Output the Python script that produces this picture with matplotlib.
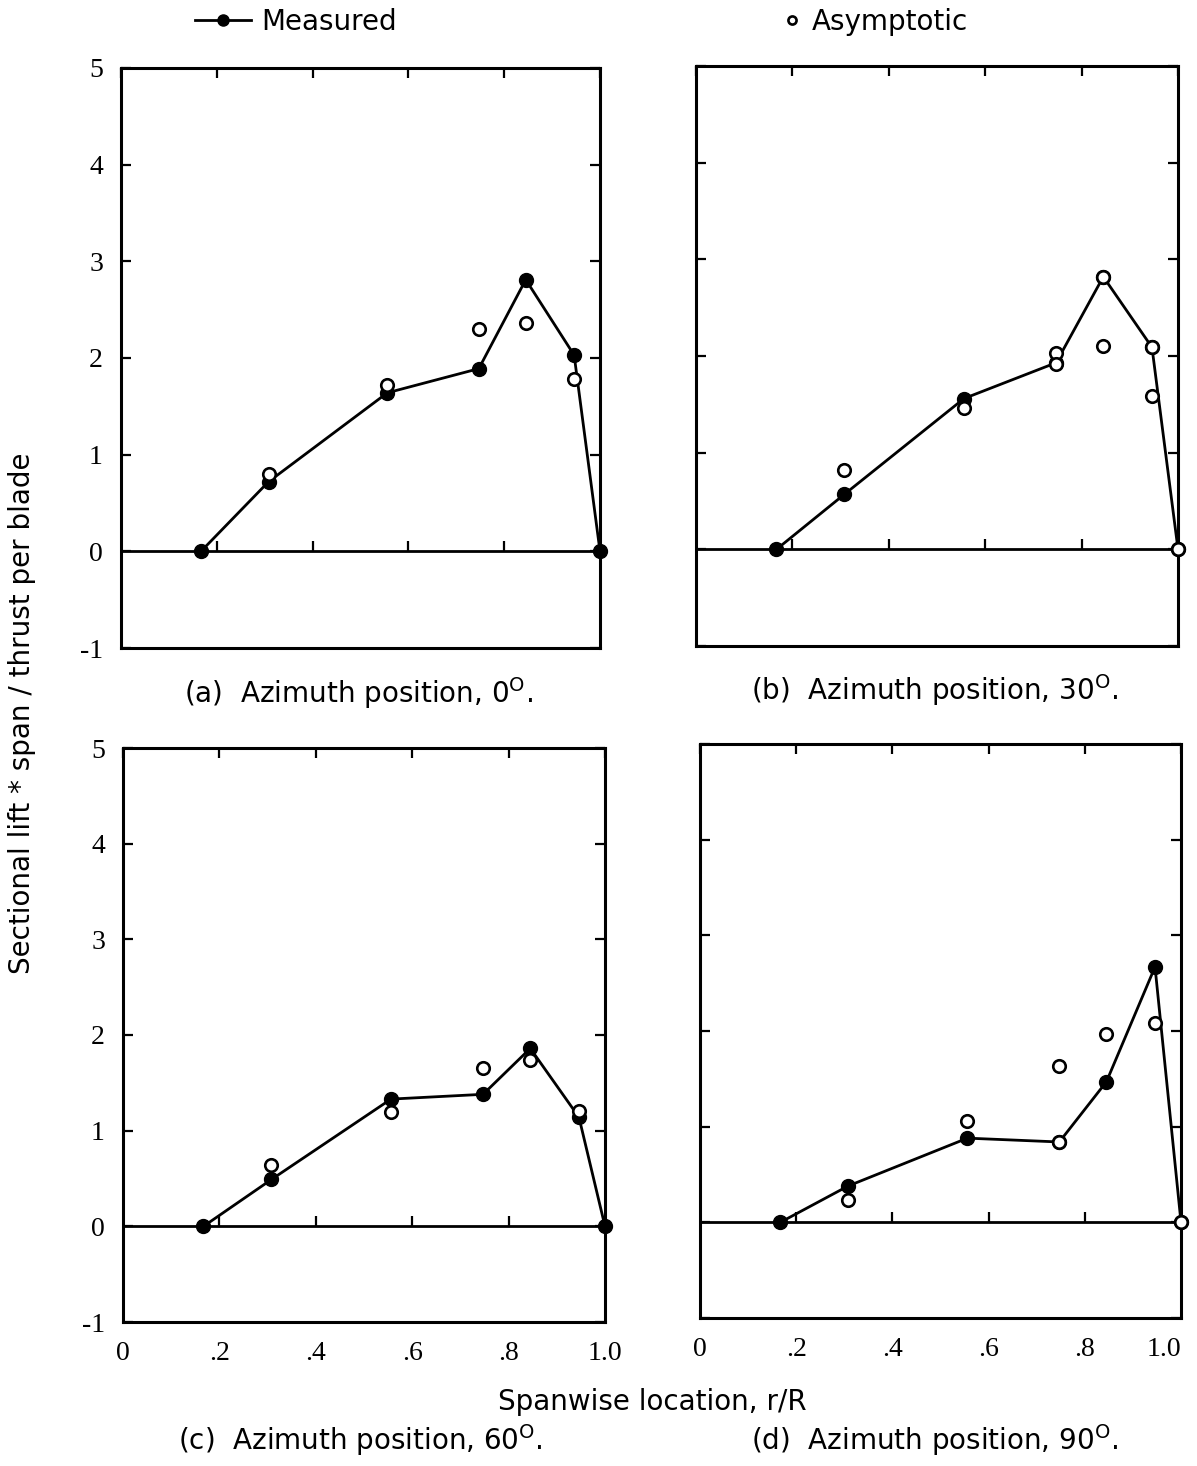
import matplotlib
matplotlib.use("Agg")
import matplotlib.pyplot as plt
from matplotlib.ticker import NullFormatter

# ---------------- data ----------------
r_meas = [0.167, 0.308, 0.556, 0.747, 0.845, 0.946, 1.0]

meas_a = [0.0, 0.72, 1.64, 1.89, 2.81, 2.03, 0.0]
meas_b = [0.0, 0.57, 1.56, 1.93, 2.82, 2.09, 0.0]
meas_c = [0.0, 0.49, 1.33, 1.38, 1.86, 1.14, 0.0]
meas_d = [0.0, 0.38, 0.88, 0.84, 1.47, 2.67, 0.0]

asym_a_x = [0.308, 0.556, 0.747, 0.845, 0.946]
asym_a_y = [0.80, 1.72, 2.30, 2.36, 1.78]
asym_b_x = [0.308, 0.556, 0.747, 0.747, 0.845, 0.845, 0.946, 0.946, 1.0]
asym_b_y = [0.82, 1.46, 2.03, 1.92, 2.10, 2.82, 1.59, 2.09, 0.0]
asym_c_x = [0.308, 0.556, 0.747, 0.845, 0.946]
asym_c_y = [0.64, 1.20, 1.65, 1.74, 1.21]
asym_d_x = [0.308, 0.556, 0.747, 0.747, 0.845, 0.946, 1.0]
asym_d_y = [0.23, 1.06, 1.63, 0.84, 1.97, 2.08, 0.0]

captions = ["(a)  Azimuth position, 0$^{\\mathrm{O}}$.",
            "(b)  Azimuth position, 30$^{\\mathrm{O}}$.",
            "(c)  Azimuth position, 60$^{\\mathrm{O}}$.",
            "(d)  Azimuth position, 90$^{\\mathrm{O}}$."]
xtick_vals = [0, 0.2, 0.4, 0.6, 0.8, 1.0]
xtick_labels = ["0", ".2", ".4", ".6", ".8", "1.0"]
ytick_vals = [-1, 0, 1, 2, 3, 4, 5]
ytick_labels = ["-1", "0", "1", "2", "3", "4", "5"]

# ---------------- style ----------------
plt.rcParams['font.family'] = ['DejaVu Sans']
plt.rcParams['mathtext.fontset'] = 'dejavusans'
FS = 20
TICKFAMILY = 'Liberation Serif'
TICKSIZE = 20

W, H = 1197, 1466
fig = plt.figure(figsize=(W / 100, H / 100), dpi=100)

def frac(l, r, t, b):
    return [l / W, 1 - b / H, (r - l) / W, (b - t) / H]

rects = [frac(121, 600, 68, 648), frac(696, 1178, 66, 646),
         frac(123, 605, 748, 1322), frac(700, 1181, 744, 1318)]
meas = [meas_a, meas_b, meas_c, meas_d]
asx = [asym_a_x, asym_b_x, asym_c_x, asym_d_x]
asy = [asym_a_y, asym_b_y, asym_c_y, asym_d_y]

LW = 2.0
handles = None
for i, rect in enumerate(rects):
    ax = fig.add_axes(rect)
    ax.set_xlim(0, 1.0)
    ax.set_ylim(-1, 5)
    for s in ax.spines.values():
        s.set_linewidth(2.2)
    lm, = ax.plot(r_meas, meas[i], color='black', lw=LW, marker='o',
                  ms=10, mfc='black', mec='black', zorder=3, clip_on=False)
    la, = ax.plot(asx[i], asy[i], ls='none', marker='o', ms=9,
                  mfc='white', mec='black', mew=1.9, zorder=4, clip_on=False)
    if handles is None:
        handles = (lm, la)
    # x ticks: labels at bottom, marks at top and on the zero line
    ax.set_xticks(xtick_vals)
    ax.tick_params(axis='x', bottom=False, top=True, direction='in',
                   length=7, width=1.6, pad=14, labelsize=TICKSIZE)
    if i >= 2:
        labs = ax.set_xticklabels(xtick_labels, family=TICKFAMILY, size=TICKSIZE)
        if i == 3:
            labs[-1].set_horizontalalignment('right')
    else:
        ax.xaxis.set_major_formatter(NullFormatter())
    ylo, yhi = ax.get_ylim()
    sec = ax.secondary_xaxis((0 - ylo) / (yhi - ylo))
    sec.set_xticks(xtick_vals[1:-1])
    sec.tick_params(axis='x', direction='in', length=7, width=1.6,
                    labelbottom=False)
    sec.spines['bottom'].set_linewidth(2.0)
    # y ticks
    ax.set_yticks(ytick_vals)
    ax.tick_params(axis='y', left=True, right=True, direction='in',
                   length=7, width=1.6, pad=13, labelsize=TICKSIZE)
    if i % 2 == 0:
        ax.set_yticklabels(ytick_labels, family=TICKFAMILY, size=TICKSIZE)
    else:
        ax.yaxis.set_major_formatter(NullFormatter())

# captions
cap_pos = [(358, 693), (935, 690), (360, 1440), (935, 1440)]
for (cx, cy), txt in zip(cap_pos, captions):
    fig.text(cx / W, 1 - cy / H, txt, ha='center', va='center', fontsize=FS)

fig.text(652 / W, 1 - 1402 / H, "Spanwise location, r/R", ha='center',
         va='center', fontsize=FS)
fig.text(22 / W, 1 - 713 / H, "Sectional lift * span / thrust per blade",
         ha='center', va='center', rotation=90, fontsize=FS)

# legend
fig.legend([handles[0]], ["Measured"], loc='center left',
           bbox_to_anchor=(170 / W, 1 - 22 / H), frameon=False, fontsize=FS,
           handlelength=2.0, handletextpad=0.4, markerscale=0.8)
fig.legend([handles[1]], ["Asymptotic"], loc='center left',
           bbox_to_anchor=(756 / W, 1 - 22 / H), frameon=False, fontsize=FS,
           handlelength=0.8, handletextpad=0.3, markerscale=0.65)

fig.savefig("out.png", dpi=100)
